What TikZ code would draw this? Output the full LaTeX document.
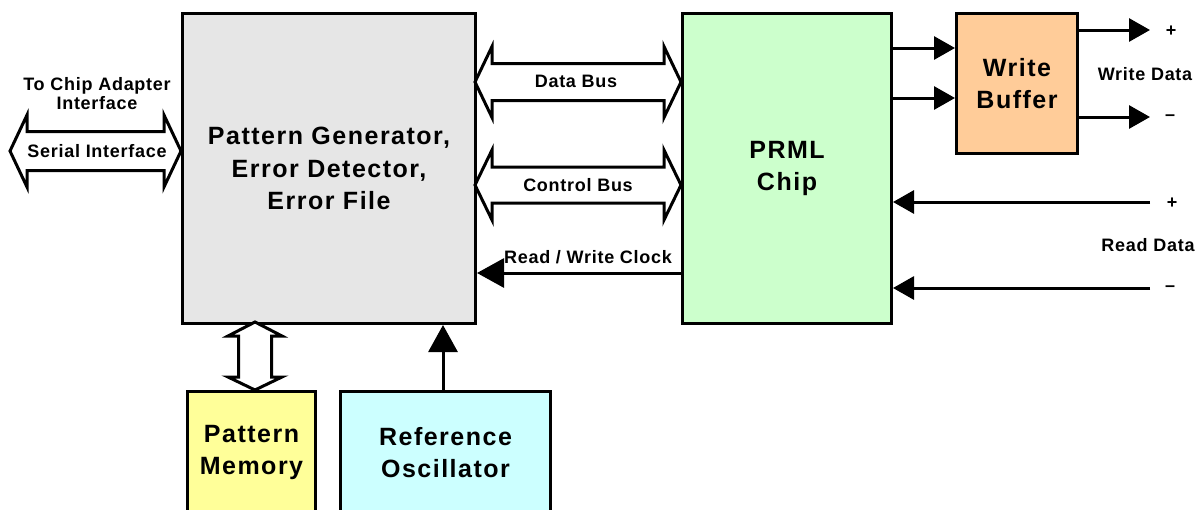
\documentclass[tikz,border=0pt]{standalone}
\usepackage{fontspec}
\setmainfont{Liberation Sans}
\usetikzlibrary{arrows.meta,calc}
\definecolor{pggray}{HTML}{E6E6E6}
\definecolor{prmlgreen}{HTML}{CCFFCC}
\definecolor{wborange}{HTML}{FFCC99}
\definecolor{pmyellow}{HTML}{FFFF99}
\definecolor{rocyan}{HTML}{CCFFFF}
\newcommand\HollowH[6]{% x1 x2 yc shafthalf headhalf headlen
  \draw[hollow] (#1,#3) -- ({#1+#6},{#3-#5}) -- ({#1+#6},{#3-#4}) -- ({#2-#6},{#3-#4}) -- ({#2-#6},{#3-#5}) -- (#2,#3)
    -- ({#2-#6},{#3+#5}) -- ({#2-#6},{#3+#4}) -- ({#1+#6},{#3+#4}) -- ({#1+#6},{#3+#5}) -- cycle;}
\begin{document}
\begin{tikzpicture}[x=1pt,y=-1pt,
  box/.style={draw=black,line width=3pt,anchor=north west,align=center,inner sep=0pt,
    font=\bfseries\fontsize{25}{32.5}\selectfont\addfontfeature{LetterSpace=6}},
  lbl/.style={font=\bfseries\fontsize{18}{19}\selectfont\addfontfeature{LetterSpace=4},align=center,inner sep=0pt},
  hollow/.style={draw=black,fill=white,line width=3pt,line join=miter},
  conn/.style={draw=black,line width=3pt},
  bighead/.style={-{Triangle[length=27pt,width=29pt]}},
  midhead/.style={-{Triangle[length=21pt,width=23pt]}}]
\useasboundingbox[fill=white] (0,0) rectangle (1200,509);
% boxes
\node[box,fill=pggray,minimum width=293pt,minimum height=310pt] (pg) at (181,12)
  {Pattern Generator,\\Error Detector,\\Error File};
\node[box,fill=prmlgreen,minimum width=209pt,minimum height=310pt] (prml) at (681,12)
  {PRML\\Chip};
\node[box,fill=wborange,minimum width=121pt,minimum height=140pt] (wb) at (955,12)
  {Write\\Buffer};
\node[box,fill=pmyellow,minimum width=128pt,minimum height=122pt] (pm) at (186,390)
  {Pattern\\Memory};
\node[box,fill=rocyan,minimum width=210pt,minimum height=122pt] (ro) at (339,390)
  {Reference\\Oscillator};
% hollow double arrows
\HollowH{10}{181}{151}{19.5}{36}{17}
\HollowH{475}{681}{82}{18.5}{35.5}{17}
\HollowH{475}{681}{185}{18}{35}{17}
\draw[hollow] (255,322) -- (282,336) -- (271.5,336) -- (271.5,377) -- (282,377) -- (255,390)
  -- (228,377) -- (238.5,377) -- (238.5,336) -- (228,336) -- cycle;
% simple connectors
\draw[conn,bighead] (prml.west |- 0,273) -- (pg.east |- 0,273);
\draw[conn,bighead] (ro.north -| 443,0) -- (pg.south -| 443,0);
\draw[conn,midhead] (prml.east |- 0,48) -- (wb.west |- 0,48);
\draw[conn,midhead] (prml.east |- 0,98) -- (wb.west |- 0,98);
\coordinate (wdp) at (1150,30);
\coordinate (wdm) at (1150,117);
\coordinate (rdp) at (1150,202);
\coordinate (rdm) at (1150,288);
\draw[conn,midhead] (wb.east |- wdp) -- (wdp);
\draw[conn,midhead] (wb.east |- wdm) -- (wdm);
\draw[conn,midhead] (rdp) -- (prml.east |- rdp);
\draw[conn,midhead] (rdm) -- (prml.east |- rdm);
% labels
\node[lbl] (tca) at (97,94) {To Chip Adapter\\Interface};
\node[lbl] (si) at (97,151) {Serial Interface};
\node[lbl] (db) at (576,81) {Data Bus};
\node[lbl] (cb) at (578,185) {Control Bus};
\node[lbl] (rwc) at (588,257) {Read / Write Clock};
\node[lbl] (wd) at (1145,74) {Write Data};
\node[lbl] (rd) at (1148,245) {Read Data};
\node[lbl] (wdpl) at (1171,31) {+};
\node[lbl] (wdml) at (1170,118) {–};
\node[lbl] (rdpl) at (1172,203) {+};
\node[lbl] (rdml) at (1170,289) {–};
\end{tikzpicture}
\end{document}
